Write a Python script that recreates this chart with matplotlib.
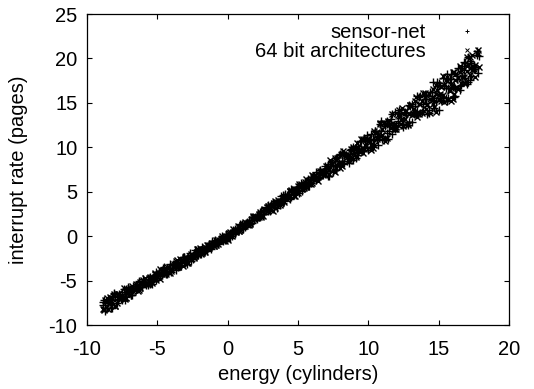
import matplotlib
matplotlib.use("Agg")
import matplotlib.pyplot as plt

plt.rcParams['font.family'] = ['Liberation Sans', 'DejaVu Sans']
plt.rcParams['axes.unicode_minus'] = False

# x positions read along the band (two interleaved sampling grids)
grid_a = [-8.9, -8.7, -8.5, -8.3, -8.1, -7.9, -7.7, -7.5, -7.3, -7.1,
          -6.9, -6.7, -6.5, -6.3, -6.1, -5.9, -5.7, -5.5, -5.3, -5.1,
          -4.9, -4.7, -4.5, -4.3, -4.1, -3.9, -3.7, -3.5, -3.3, -3.1,
          -2.9, -2.7, -2.5, -2.3, -2.1, -1.9, -1.7, -1.5, -1.3, -1.1,
          -0.9, -0.7, -0.5, -0.3, -0.1, 0.1, 0.3, 0.5, 0.7, 0.9,
          1.1, 1.3, 1.5, 1.7, 1.9, 2.1, 2.3, 2.5, 2.7, 2.9,
          3.1, 3.3, 3.5, 3.7, 3.9, 4.1, 4.3, 4.5, 4.7, 4.9,
          5.1, 5.3, 5.5, 5.7, 5.9, 6.1, 6.3, 6.5, 6.7, 6.9,
          7.1, 7.3, 7.5, 7.7, 7.9, 8.1, 8.3, 8.5, 8.7, 8.9,
          9.1, 9.3, 9.5, 9.7, 9.9, 10.1, 10.3, 10.5, 10.7, 10.9,
          11.1, 11.3, 11.5, 11.7, 11.9, 12.1, 12.3, 12.5, 12.7, 12.9,
          13.1, 13.3, 13.5, 13.7, 13.9, 14.1, 14.3, 14.5, 14.7, 14.9,
          15.1, 15.3, 15.5, 15.7, 15.9, 16.1, 16.3, 16.5, 16.7, 16.9,
          17.1, 17.3, 17.5, 17.7]
grid_b = [-8.8, -8.6, -8.4, -8.2, -8.0, -7.8, -7.6, -7.4, -7.2, -7.0,
          -6.8, -6.6, -6.4, -6.2, -6.0, -5.8, -5.6, -5.4, -5.2, -5.0,
          -4.8, -4.6, -4.4, -4.2, -4.0, -3.8, -3.6, -3.4, -3.2, -3.0,
          -2.8, -2.6, -2.4, -2.2, -2.0, -1.8, -1.6, -1.4, -1.2, -1.0,
          -0.8, -0.6, -0.4, -0.2, 0.0, 0.2, 0.4, 0.6, 0.8, 1.0,
          1.2, 1.4, 1.6, 1.8, 2.0, 2.2, 2.4, 2.6, 2.8, 3.0,
          3.2, 3.4, 3.6, 3.8, 4.0, 4.2, 4.4, 4.6, 4.8, 5.0,
          5.2, 5.4, 5.6, 5.8, 6.0, 6.2, 6.4, 6.6, 6.8, 7.0,
          7.2, 7.4, 7.6, 7.8, 8.0, 8.2, 8.4, 8.6, 8.8, 9.0,
          9.2, 9.4, 9.6, 9.8, 10.0, 10.2, 10.4, 10.6, 10.8, 11.0,
          11.2, 11.4, 11.6, 11.8, 12.0, 12.2, 12.4, 12.6, 12.8, 13.0,
          13.2, 13.4, 13.6, 13.8, 14.0, 14.2, 14.4, 14.6, 14.8, 15.0,
          15.2, 15.4, 15.6, 15.8, 16.0, 16.2, 16.4, 16.6, 16.8, 17.0,
          17.2, 17.4, 17.6]

# sensor-net values on grid_a, grid_b and again grid_a
sensor_y_a = [-7.44, -8.06, -7.49, -8.03, -6.49, -7.19, -6.53, -7.16, -6.50, -5.76,
              -6.64, -5.80, -5.95, -5.17, -5.70, -5.14, -5.46, -4.62, -4.77, -3.99,
              -4.03, -4.40, -3.95, -4.27, -3.15, -3.58, -3.07, -3.45, -2.94, -2.37,
              -3.08, -2.24, -2.39, -1.61, -2.15, -1.61, -1.79, -1.14, -1.20, -0.58,
              -0.56, -0.78, -0.41, -0.59, 0.27, 0.03, 0.48, 0.29, 0.74, 1.23,
              0.81, 1.50, 1.47, 2.12, 1.81, 2.31, 2.16, 2.85, 2.82, 3.47,
              3.62, 3.28, 3.77, 3.48, 4.63, 4.24, 4.78, 4.44, 4.98, 5.58,
              4.91, 5.79, 5.67, 6.48, 5.98, 6.58, 6.30, 7.17, 7.05, 7.86,
              8.07, 7.38, 8.04, 7.44, 9.18, 8.41, 9.16, 8.47, 9.22, 10.06,
              8.84, 10.13, 9.80, 11.00, 10.04, 10.98, 10.04, 11.83, 11.28, 12.94,
              12.65, 11.58, 12.46, 11.52, 13.96, 12.75, 13.74, 12.65, 13.64, 14.76,
              12.89, 14.66, 14.09, 15.73, 14.25, 15.40, 14.25, 16.25, 15.55, 17.40,
              17.00, 15.70, 16.65, 15.50, 18.25, 16.85, 18.06, 16.87, 18.07, 19.43,
              17.34, 19.45, 18.85, 20.80]
sensor_y_b = [-7.15, -8.13, -7.24, -8.06, -6.68, -7.06, -7.08, -5.91, -6.89, -6.06,
              -6.57, -5.57, -5.78, -5.74, -4.87, -5.49, -4.81, -5.33, -4.33, -4.53,
              -4.49, -3.62, -4.25, -3.57, -4.08, -3.08, -3.28, -3.25, -2.38, -3.00,
              -2.32, -2.83, -1.84, -2.04, -2.00, -1.26, -1.66, -1.13, -1.45, -0.67,
              -0.77, -0.69, -0.02, -0.42, 0.12, -0.17, 0.64, 0.58, 0.69, 1.40,
              1.03, 1.60, 1.32, 2.13, 2.06, 2.17, 2.88, 2.52, 3.09, 2.80,
              3.69, 3.52, 3.60, 4.50, 3.91, 4.62, 4.14, 5.18, 5.01, 5.08,
              5.98, 5.39, 6.11, 5.63, 6.66, 6.49, 6.56, 7.47, 6.88, 7.59,
              6.77, 8.34, 7.92, 7.91, 9.25, 8.15, 9.17, 8.26, 9.83, 9.40,
              9.39, 10.73, 9.64, 10.66, 9.74, 11.55, 10.86, 10.77, 12.63, 10.97,
              12.37, 10.97, 13.16, 12.47, 12.38, 14.22, 12.54, 13.92, 12.50, 14.67,
              13.96, 13.85, 15.69, 14.01, 15.39, 13.77, 16.23, 15.37, 15.20, 17.28,
              15.30, 16.85, 15.17, 17.63, 16.77, 16.71, 18.90, 17.02, 18.68, 17.11,
              19.68, 18.92, 18.86]
sensor_y_c = [-7.80, -8.38, -7.05, -7.67, -6.45, -7.51, -6.85, -6.28, -7.22, -6.20,
              -6.58, -5.60, -5.98, -5.09, -5.76, -5.25, -4.79, -5.40, -4.64, -4.98,
              -4.00, -4.37, -3.49, -4.16, -3.65, -3.19, -3.79, -3.04, -3.38, -2.40,
              -2.77, -1.88, -2.56, -2.05, -1.59, -2.05, -1.45, -1.66, -0.90, -1.12,
              -0.42, -0.86, -0.45, -0.07, -0.45, 0.17, 0.00, 0.79, 0.60, 1.33,
              0.93, 1.38, 1.79, 1.44, 2.07, 1.91, 2.70, 2.51, 3.24, 2.83,
              3.29, 3.78, 3.21, 4.00, 3.69, 4.71, 4.37, 5.29, 4.65, 5.19,
              5.69, 5.12, 5.91, 5.60, 6.61, 6.28, 7.20, 6.56, 7.10, 7.59,
              6.72, 7.88, 7.23, 8.75, 8.05, 9.45, 8.26, 9.01, 9.67, 8.62,
              9.79, 9.14, 10.66, 9.96, 11.35, 9.94, 10.95, 11.83, 10.24, 11.84,
              10.83, 12.95, 11.87, 13.80, 12.01, 13.01, 13.87, 12.26, 13.84, 12.81,
              14.91, 13.81, 15.72, 13.91, 14.90, 15.90, 13.86, 15.74, 14.42, 16.94,
              15.54, 17.82, 15.54, 16.70, 17.70, 15.71, 17.70, 16.49, 19.11, 17.82,
              20.21, 18.04, 19.30, 20.40]
# extra sensor-net points at the wide upper end
sensor_tail_x = [14.6, 15.0, 15.6, 16.2, 16.8, 17.2, 17.8, 17.9]
sensor_tail_y = [17.3, 14.2, 18.2, 15.8, 19.6, 17.6, 18.4, 20.3]

# 64 bit architectures values on grid_b, grid_a and again grid_b
arch_y_b = [-8.23, -7.01, -7.56, -6.98, -7.84, -6.46, -7.00, -5.83, -6.25, -6.62,
            -5.78, -5.98, -5.70, -5.80, -4.90, -5.22, -4.76, -5.30, -4.30, -4.62,
            -3.75, -3.98, -4.30, -3.47, -3.67, -3.38, -3.48, -2.59, -2.90, -2.45,
            -2.99, -1.98, -2.31, -1.44, -1.67, -1.88, -1.22, -1.33, -1.07, -1.09,
            -0.39, -0.57, -0.20, -0.54, 0.24, 0.09, 0.80, 0.72, 0.57, 1.26,
            1.19, 1.48, 1.50, 2.23, 2.08, 2.49, 2.18, 3.00, 2.85, 3.56,
            3.50, 3.22, 4.10, 3.92, 4.24, 4.18, 5.10, 4.83, 5.31, 4.81,
            5.84, 5.56, 6.46, 6.26, 5.98, 6.85, 6.67, 7.00, 6.93, 7.86,
            7.54, 8.20, 7.25, 8.81, 8.21, 9.55, 9.08, 8.49, 9.78, 9.36,
            9.75, 9.51, 10.90, 10.30, 10.96, 9.66, 11.84, 10.90, 12.76, 12.01,
            11.07, 12.86, 12.18, 12.67, 12.25, 14.15, 13.19, 14.05, 12.57, 14.73,
            13.77, 15.61, 14.84, 13.88, 15.65, 14.90, 15.40, 14.85, 17.00, 15.85,
            16.80, 15.05, 17.50, 16.35, 18.43, 17.61, 16.57, 18.67, 17.93, 18.54,
            18.10, 20.35, 19.31]
arch_y_a = [-8.16, -7.18, -8.25, -7.27, -6.49, -7.47, -6.49, -6.76, -7.10, -6.04,
            -6.17, -6.13, -5.40, -6.08, -5.35, -4.75, -5.37, -4.65, -4.78, -4.95,
            -4.17, -4.21, -4.18, -3.44, -4.12, -3.39, -2.79, -3.42, -2.69, -2.82,
            -2.99, -2.21, -2.26, -2.22, -1.48, -2.03, -1.45, -0.98, -1.38, -0.80,
            -0.84, -0.92, -0.31, -0.29, -0.21, 0.39, -0.02, 0.59, 1.10, 0.73,
            1.35, 1.34, 1.29, 1.94, 1.99, 2.11, 2.72, 2.31, 2.92, 3.43,
            2.99, 3.75, 3.65, 3.51, 4.32, 4.32, 4.39, 5.16, 4.51, 5.27,
            5.91, 5.32, 6.08, 5.98, 5.84, 6.66, 6.65, 6.72, 7.49, 6.84,
            7.67, 8.55, 7.45, 8.57, 8.28, 7.91, 9.12, 8.96, 8.95, 10.06,
            8.88, 10.00, 10.88, 9.78, 10.90, 10.59, 9.97, 11.64, 11.34, 11.25,
            12.78, 10.99, 12.53, 13.73, 12.07, 13.60, 13.09, 12.45, 14.10, 13.78,
            13.67, 15.18, 13.37, 14.89, 16.07, 14.27, 15.98, 15.35, 14.57, 16.43,
            16.02, 15.85, 17.55, 15.42, 17.13, 18.50, 16.63, 18.45, 17.92, 17.25,
            19.22, 18.92, 18.85, 20.65]
arch_y_c = [-8.35, -7.37, -6.80, -7.50, -7.88, -6.46, -6.68, -6.95, -6.93, -6.04,
            -5.58, -6.01, -6.22, -5.19, -5.28, -5.41, -5.34, -4.62, -4.16, -4.59,
            -4.79, -3.76, -3.86, -3.99, -3.92, -3.19, -2.73, -3.17, -3.37, -2.34,
            -2.43, -2.56, -2.50, -1.77, -1.31, -1.70, -1.80, -1.01, -1.03, -1.07,
            -0.97, -0.39, -0.02, -0.28, -0.38, 0.45, 0.46, 0.46, 0.59, 1.20,
            1.61, 1.38, 1.32, 2.15, 2.16, 2.15, 2.28, 2.90, 3.31, 3.08,
            2.87, 3.93, 3.88, 3.78, 3.88, 4.64, 5.13, 4.74, 4.57, 5.63,
            5.57, 5.47, 5.58, 6.34, 6.83, 6.43, 6.26, 7.33, 7.27, 7.17,
            7.04, 8.16, 8.83, 8.04, 7.62, 9.23, 8.99, 8.71, 8.74, 9.86,
            10.52, 9.73, 9.32, 10.93, 10.69, 10.24, 10.21, 11.75, 12.63, 11.42,
            10.74, 12.99, 12.57, 12.08, 12.05, 13.57, 14.43, 13.20, 12.50, 14.73,
            14.29, 13.78, 13.73, 15.25, 16.11, 14.80, 13.88, 16.56, 15.96, 15.28,
            15.16, 16.96, 17.96, 16.40, 15.48, 18.27, 17.78, 17.20, 17.19, 19.10,
            20.21, 18.75, 17.94]
# extra 64 bit architectures points at the wide upper end
arch_tail_x = [14.8, 15.3, 15.9, 16.1, 16.5, 17.0, 17.8, 17.9]
arch_tail_y = [14.0, 18.0, 15.2, 16.0, 19.2, 20.2, 20.9, 19.0]

x_ticks = [-10, -5, 0, 5, 10, 15, 20]
y_ticks = [-10, -5, 0, 5, 10, 15, 20, 25]

sensor_x = grid_a + grid_b + grid_a + sensor_tail_x
sensor_y = sensor_y_a + sensor_y_b + sensor_y_c + sensor_tail_y
arch_x = grid_b + grid_a + grid_b + arch_tail_x
arch_y = arch_y_b + arch_y_a + arch_y_c + arch_tail_y

fig = plt.figure(figsize=(5.34, 3.89), dpi=100)
ax = fig.add_axes([0.163, 0.1645, 0.790, 0.7995])

ax.plot(sensor_x, sensor_y, linestyle='none', marker='+', color='black',
        markersize=5.5, markeredgewidth=1.0, label='sensor-net')
ax.plot(arch_x, arch_y, linestyle='none', marker='x', color='black',
        markersize=4.5, markeredgewidth=1.0, label='64 bit architectures')

ax.set_xlim(-10, 20)
ax.set_ylim(-10, 25)
ax.set_xticks(x_ticks)
ax.set_yticks(y_ticks)
ax.tick_params(direction='in', top=True, right=True, length=3.8, width=0.8,
               labelsize=14.5)
ax.tick_params(axis='x', pad=10.5)
ax.tick_params(axis='y', pad=7)
for s in ax.spines.values():
    s.set_linewidth(0.9)

ax.set_xlabel('energy (cylinders)', fontsize=14.5)
ax.set_ylabel('interrupt rate (pages)', fontsize=14.5)
ax.xaxis.set_label_coords(0.5, -0.128)
ax.yaxis.set_label_coords(-0.14, 0.5)

leg = ax.legend(loc='upper right', frameon=False, markerfirst=False, fontsize=14.5,
                handlelength=0.8, handletextpad=1.65, borderaxespad=0.0,
                labelspacing=0.0, borderpad=0.2, bbox_to_anchor=(0.93, 0.984))
for h in leg.legend_handles:
    h.set_markersize(3.5)
    h.set_markeredgewidth(0.7)

fig.savefig('out.png', dpi=100)
